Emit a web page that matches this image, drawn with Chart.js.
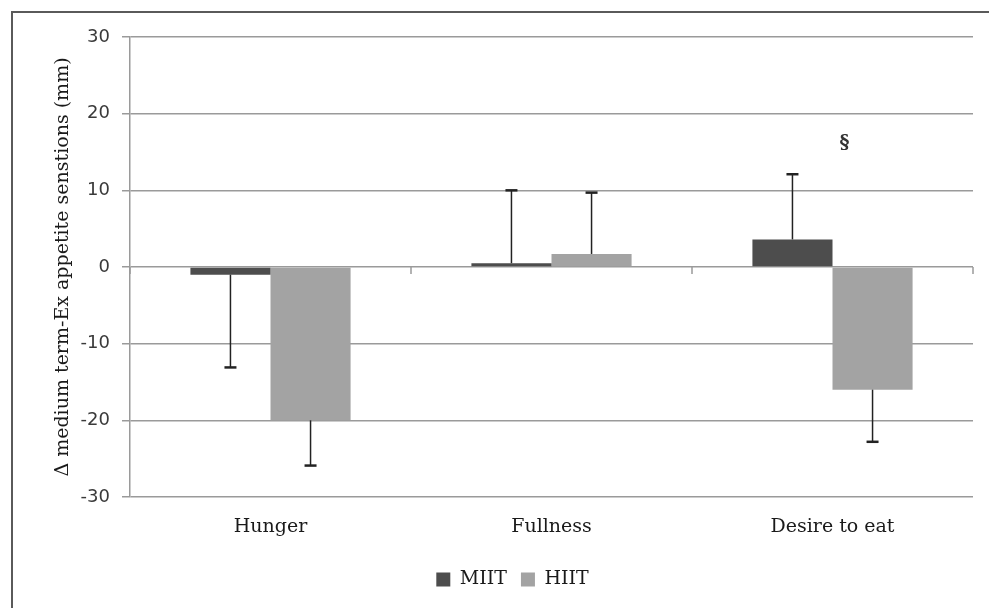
<!DOCTYPE html>
<html>
<head>
<meta charset="utf-8">
<title>Appetite sensations</title>
<script src="https://cdn.jsdelivr.net/npm/chart.js@4.4.1/dist/chart.umd.min.js"></script>
<style>
  html, body { margin: 0; padding: 0; background: #fff; }
  #wrap { position: relative; width: 989px; height: 608px; }
  #frame {
    position: absolute; left: 11px; top: 11px; right: -10px; bottom: -10px;
    border-top: 2px solid #5a5a5a; border-left: 2px solid #5a5a5a;
    pointer-events: none;
  }
</style>
</head>
<body>
<div id="wrap">
  <canvas id="appetiteChart"></canvas>
  <div id="frame"></div>
</div>
<script>
// values (mm)
const categories = ['Hunger', 'Fullness', 'Desire to eat'];
const miitValues = [-1.0, 0.5, 3.6];
const hiitValues = [-20.0, 1.7, -16.0];
const miitErrors = [12.1, 9.5, 8.5];
const hiitErrors = [5.9, 8.0, 6.8];
const yMin = -30;
const yMax = 30;
const yStep = 10;
// significance marks
const sigCategories = [2];
const sigValues = [16.2];
const sigLabels = ['§'];

const serif = "'DejaVu Serif', 'Liberation Serif', serif";

// one-sided error bars in the direction of the bar
const errorBars = {
  id: 'errorBars',
  afterDatasetsDraw(chart) {
    const ctx = chart.ctx;
    const y = chart.scales.y;
    chart.data.datasets.forEach((ds, i) => {
      const meta = chart.getDatasetMeta(i);
      meta.data.forEach((bar, j) => {
        const v = ds.data[j];
        const e = ds.errors[j];
        const end = v >= 0 ? v + e : v - e;
        const y0 = y.getPixelForValue(v);
        const y1 = y.getPixelForValue(end);
        ctx.save();
        ctx.strokeStyle = '#222';
        ctx.lineWidth = 1.5;
        ctx.beginPath();
        ctx.moveTo(bar.x, y0);
        ctx.lineTo(bar.x, y1);
        ctx.stroke();
        ctx.lineWidth = 2.5;
        ctx.beginPath();
        ctx.moveTo(bar.x - 6, y1);
        ctx.lineTo(bar.x + 6, y1);
        ctx.stroke();
        ctx.restore();
      });
    });
  }
};

// category tick marks on the zero line + significance marks
const zeroAxis = {
  id: 'zeroAxis',
  afterDraw(chart) {
    const ctx = chart.ctx;
    const x = chart.scales.x;
    const y = chart.scales.y;
    const y0 = y.getPixelForValue(0);
    ctx.save();
    ctx.strokeStyle = '#9a9a9a';
    ctx.lineWidth = 1.5;
    for (let i = 0; i <= categories.length; i++) {
      const px = x.getPixelForValue(i - 0.5);
      ctx.beginPath();
      ctx.moveTo(px, y0);
      ctx.lineTo(px, y0 + 7);
      ctx.stroke();
    }
    ctx.fillStyle = '#333';
    ctx.font = "bold 19px " + serif;
    ctx.textAlign = 'center';
    ctx.textBaseline = 'middle';
    sigCategories.forEach((c, k) => {
      ctx.fillText(sigLabels[k], x.getPixelForValue(c) + 12, y.getPixelForValue(sigValues[k]));
    });
    ctx.restore();
  }
};

const ctx = document.getElementById('appetiteChart').getContext('2d');
new Chart(ctx, {
  type: 'bar',
  data: {
    labels: categories,
    datasets: [{
        label: 'MIIT',
        data: miitValues,
        errors: miitErrors,
        backgroundColor: '#4d4d4d',
        borderWidth: 0
      },
      {
        label: 'HIIT',
        data: hiitValues,
        errors: hiitErrors,
        backgroundColor: '#a3a3a3',
        borderWidth: 0
      }
    ]
  },
  options: {
    responsive: true,
    maintainAspectRatio: false,
    animation: false,
    categoryPercentage: 0.57,
    barPercentage: 1,
    layout: {
      padding: { left: 52, right: 16, top: 37, bottom: 9 }
    },
    scales: {
      x: {
        grid: { display: false },
        border: { display: false },
        ticks: {
          color: '#1a1a1a',
          padding: 11,
          font: { family: serif, size: 19 }
        },
        afterFit(scale) { scale.height = 59; }
      },
      y: {
        min: yMin,
        max: yMax,
        ticks: {
          stepSize: yStep,
          color: '#3a3a3a',
          padding: 12,
          font: { family: "'DejaVu Sans', Verdana, sans-serif", size: 18 }
        },
        grid: {
          color: '#9a9a9a',
          lineWidth: 1.5,
          tickLength: 8
        },
        border: { display: true, color: '#9a9a9a', width: 1.5 },
        title: {
          display: true,
          text: 'Δ medium term-Ex appetite senstions (mm)',
          color: '#1a1a1a',
          padding: 0,
          font: { family: serif, size: 19 }
        },
        afterFit(scale) { scale.width = 78; }
      }
    },
    plugins: {
      legend: {
        position: 'bottom',
        labels: {
          color: '#1a1a1a',
          boxWidth: 14,
          boxHeight: 14,
          padding: 14,
          font: { family: serif, size: 19 }
        }
      },
      tooltip: { enabled: false }
    }
  },
  plugins: [errorBars, zeroAxis]
});
</script>
</body>
</html>
